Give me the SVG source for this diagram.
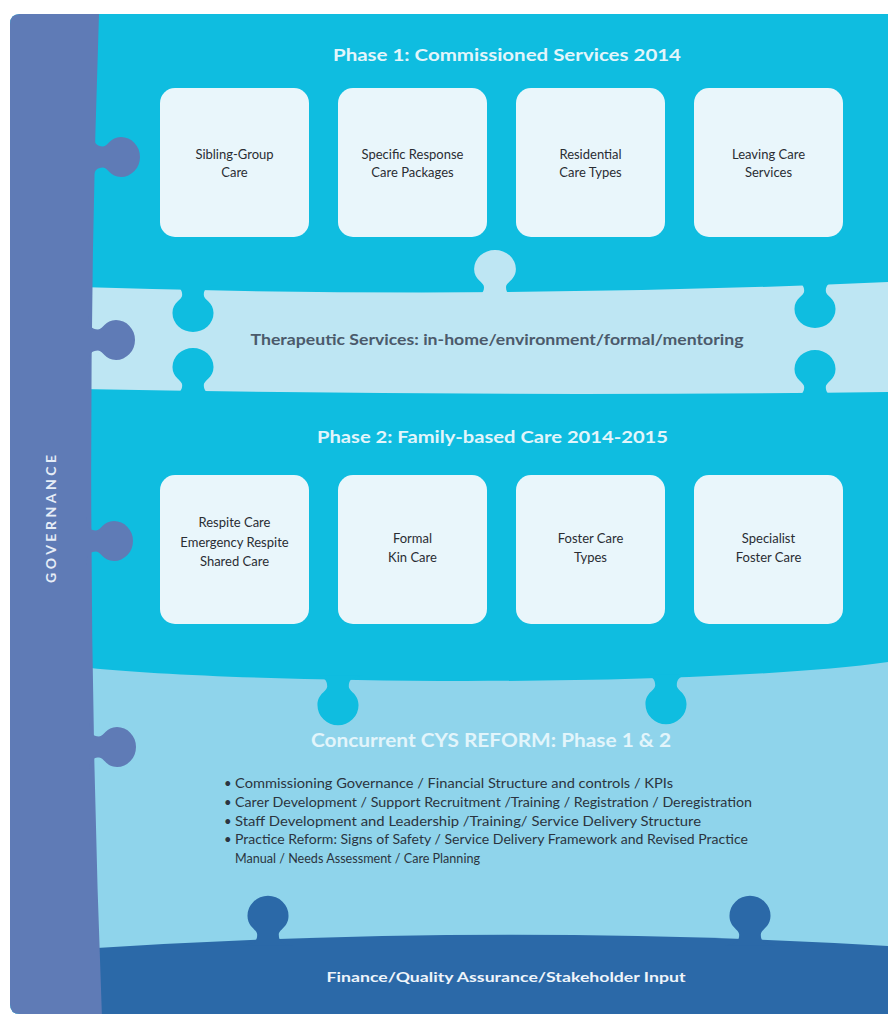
<svg xmlns="http://www.w3.org/2000/svg" width="888" height="1017" viewBox="0 0 888 1017">
  <defs>
    <style>
      .cyan{fill:#0fbde0}
      .pale{fill:#bee6f3}
      .mid{fill:#8fd4eb}
      .navy{fill:#2b69a8}
      .gov{fill:#5f7bb6}
      .box rect{fill:#e9f6fb}
      .box text{font-family:Lato,"Open Sans",sans-serif;font-size:13px;fill:#2a2d33;text-anchor:middle}
      .title{font-family:Lato,"Liberation Sans",sans-serif;font-weight:700;text-anchor:middle}
      .light{fill:#e2f5fb}
      .bullets text{font-family:Lato,"Open Sans",sans-serif;font-size:13px;fill:#2b3440}
    </style>
    <clipPath id="frame">
      <path d="M10,24 Q10,14 20,14 H888 V1014 H20 Q10,1014 10,1004 Z"/>
    </clipPath>
    <!-- puzzle tab pointing toward +y, base on y=0 -->
    <path id="tab" d="M-24,-3 C-13,-3 -10,1 -10,7 C-10,12 -19,14 -19,25 A19 19 0 0 0 19,25 C19,14 10,12 10,7 C10,1 13,-3 24,-3 Z"/>
  </defs>

  <g clip-path="url(#frame)">
    <!-- phase panels share the cyan base -->
    <rect id="phase-base" class="cyan" x="0" y="0" width="888" height="1017"/>

    <!-- therapeutic services band -->
    <g id="therapeutic-band">
      <path class="pale" d="M80,287 Q490,300 888,282 L888,392 Q490,397 80,389 Z"/>
      <use href="#tab" class="cyan" transform="translate(193,288) scale(1.08,1)"/>
      <use href="#tab" class="cyan" transform="translate(193,392) rotate(180) scale(1.08,1)"/>
      <use href="#tab" class="cyan" transform="translate(815,284) scale(1.08,1)"/>
      <use href="#tab" class="cyan" transform="translate(815,394) rotate(180) scale(1.08,1)"/>
      <use href="#tab" class="pale" transform="translate(495,294) rotate(180) scale(1.1,1)"/>
      <text class="title" x="497" y="345" font-size="15" fill="#4b5a6b" textLength="493" lengthAdjust="spacingAndGlyphs">Therapeutic Services: in-home/environment/formal/mentoring</text>
    </g>

    <!-- concurrent reform panel -->
    <g id="concurrent-reform">
      <path class="mid" d="M80,667 C250,685 700,688 888,662 L888,970 L80,970 Z"/>
      <use href="#tab" class="cyan" transform="translate(338,679) scale(1.08,1.05)"/>
      <use href="#tab" class="cyan" transform="translate(666,678) scale(1.08,1.05)"/>
      <text class="title light" x="491" y="747" font-size="18" textLength="360" lengthAdjust="spacingAndGlyphs">Concurrent CYS REFORM: Phase 1 &amp; 2</text>
      <g class="bullets">
        <text x="224" y="788">•</text>
        <text x="235" y="788" textLength="438" lengthAdjust="spacingAndGlyphs">Commissioning Governance /  Financial Structure and controls / KPIs</text>
        <text x="224" y="807">•</text>
        <text x="235" y="807" textLength="517" lengthAdjust="spacingAndGlyphs">Carer Development / Support Recruitment /Training / Registration / Deregistration</text>
        <text x="224" y="826">•</text>
        <text x="235" y="826" textLength="466" lengthAdjust="spacingAndGlyphs">Staff Development and Leadership /Training/ Service Delivery Structure</text>
        <text x="224" y="844">•</text>
        <text x="235" y="844" textLength="513" lengthAdjust="spacingAndGlyphs">Practice Reform: Signs of Safety / Service Delivery Framework and Revised Practice</text>
        <text x="235" y="863" textLength="245" lengthAdjust="spacingAndGlyphs">Manual / Needs Assessment / Care Planning</text>
      </g>
    </g>

    <!-- finance base bar -->
    <g id="finance-bar">
      <path class="navy" d="M80,949 Q490,922 888,946 L888,1017 L80,1017 Z"/>
      <use href="#tab" class="navy" transform="translate(268,942) rotate(180) scale(1.08,1.05)"/>
      <use href="#tab" class="navy" transform="translate(750,942) rotate(180) scale(1.08,1.05)"/>
      <text class="title" x="506" y="982" font-size="14" fill="#eef4fa" textLength="359" lengthAdjust="spacingAndGlyphs">Finance/Quality Assurance/Stakeholder Input</text>
    </g>

    <!-- governance column -->
    <g id="governance">
      <path class="gov" d="M0,0 L99,0 L99,14 Q82,500 102,1017 L0,1017 Z"/>
      <use href="#tab" class="gov" transform="translate(96,157) rotate(-90) scale(1.05,1)"/>
      <use href="#tab" class="gov" transform="translate(91,340) rotate(-90) scale(1.05,1)"/>
      <use href="#tab" class="gov" transform="translate(89,541) rotate(-90) scale(1.05,1)"/>
      <use href="#tab" class="gov" transform="translate(92,747) rotate(-90) scale(1.05,1)"/>
      <text class="title" transform="translate(56,519) rotate(-90)" font-size="14" fill="#e6edf7" textLength="128" lengthAdjust="spacing">GOVERNANCE</text>
    </g>
  </g>

  <!-- phase 1 -->
  <g id="phase1-title">
    <text class="title light" x="507" y="61" font-size="17" textLength="348" lengthAdjust="spacingAndGlyphs">Phase 1: Commissioned Services 2014</text>
  </g>
  <g id="sibling-group-care" class="box">
    <rect x="160" y="88" width="149" height="149" rx="15"/>
    <text x="234.5" y="159">Sibling-Group</text>
    <text x="234.5" y="177">Care</text>
  </g>
  <g id="specific-response" class="box">
    <rect x="338" y="88" width="149" height="149" rx="15"/>
    <text x="412.5" y="159">Specific Response</text>
    <text x="412.5" y="177">Care Packages</text>
  </g>
  <g id="residential-care" class="box">
    <rect x="516" y="88" width="149" height="149" rx="15"/>
    <text x="590.5" y="159">Residential</text>
    <text x="590.5" y="177">Care Types</text>
  </g>
  <g id="leaving-care" class="box">
    <rect x="694" y="88" width="149" height="149" rx="15"/>
    <text x="768.5" y="159">Leaving Care</text>
    <text x="768.5" y="177">Services</text>
  </g>

  <!-- phase 2 -->
  <g id="phase2-title">
    <text class="title light" x="492.5" y="443" font-size="17" textLength="351" lengthAdjust="spacingAndGlyphs">Phase 2: Family-based Care 2014-2015</text>
  </g>
  <g id="respite-care" class="box">
    <rect x="160" y="475" width="149" height="149" rx="15"/>
    <text x="234.5" y="527">Respite Care</text>
    <text x="234.5" y="547">Emergency Respite</text>
    <text x="234.5" y="566">Shared Care</text>
  </g>
  <g id="formal-kin-care" class="box">
    <rect x="338" y="475" width="149" height="149" rx="15"/>
    <text x="412.5" y="543">Formal</text>
    <text x="412.5" y="562">Kin Care</text>
  </g>
  <g id="foster-care-types" class="box">
    <rect x="516" y="475" width="149" height="149" rx="15"/>
    <text x="590.5" y="543">Foster Care</text>
    <text x="590.5" y="562">Types</text>
  </g>
  <g id="specialist-foster-care" class="box">
    <rect x="694" y="475" width="149" height="149" rx="15"/>
    <text x="768.5" y="543">Specialist</text>
    <text x="768.5" y="562">Foster Care</text>
  </g>

  <g id="connectors"/>
</svg>
